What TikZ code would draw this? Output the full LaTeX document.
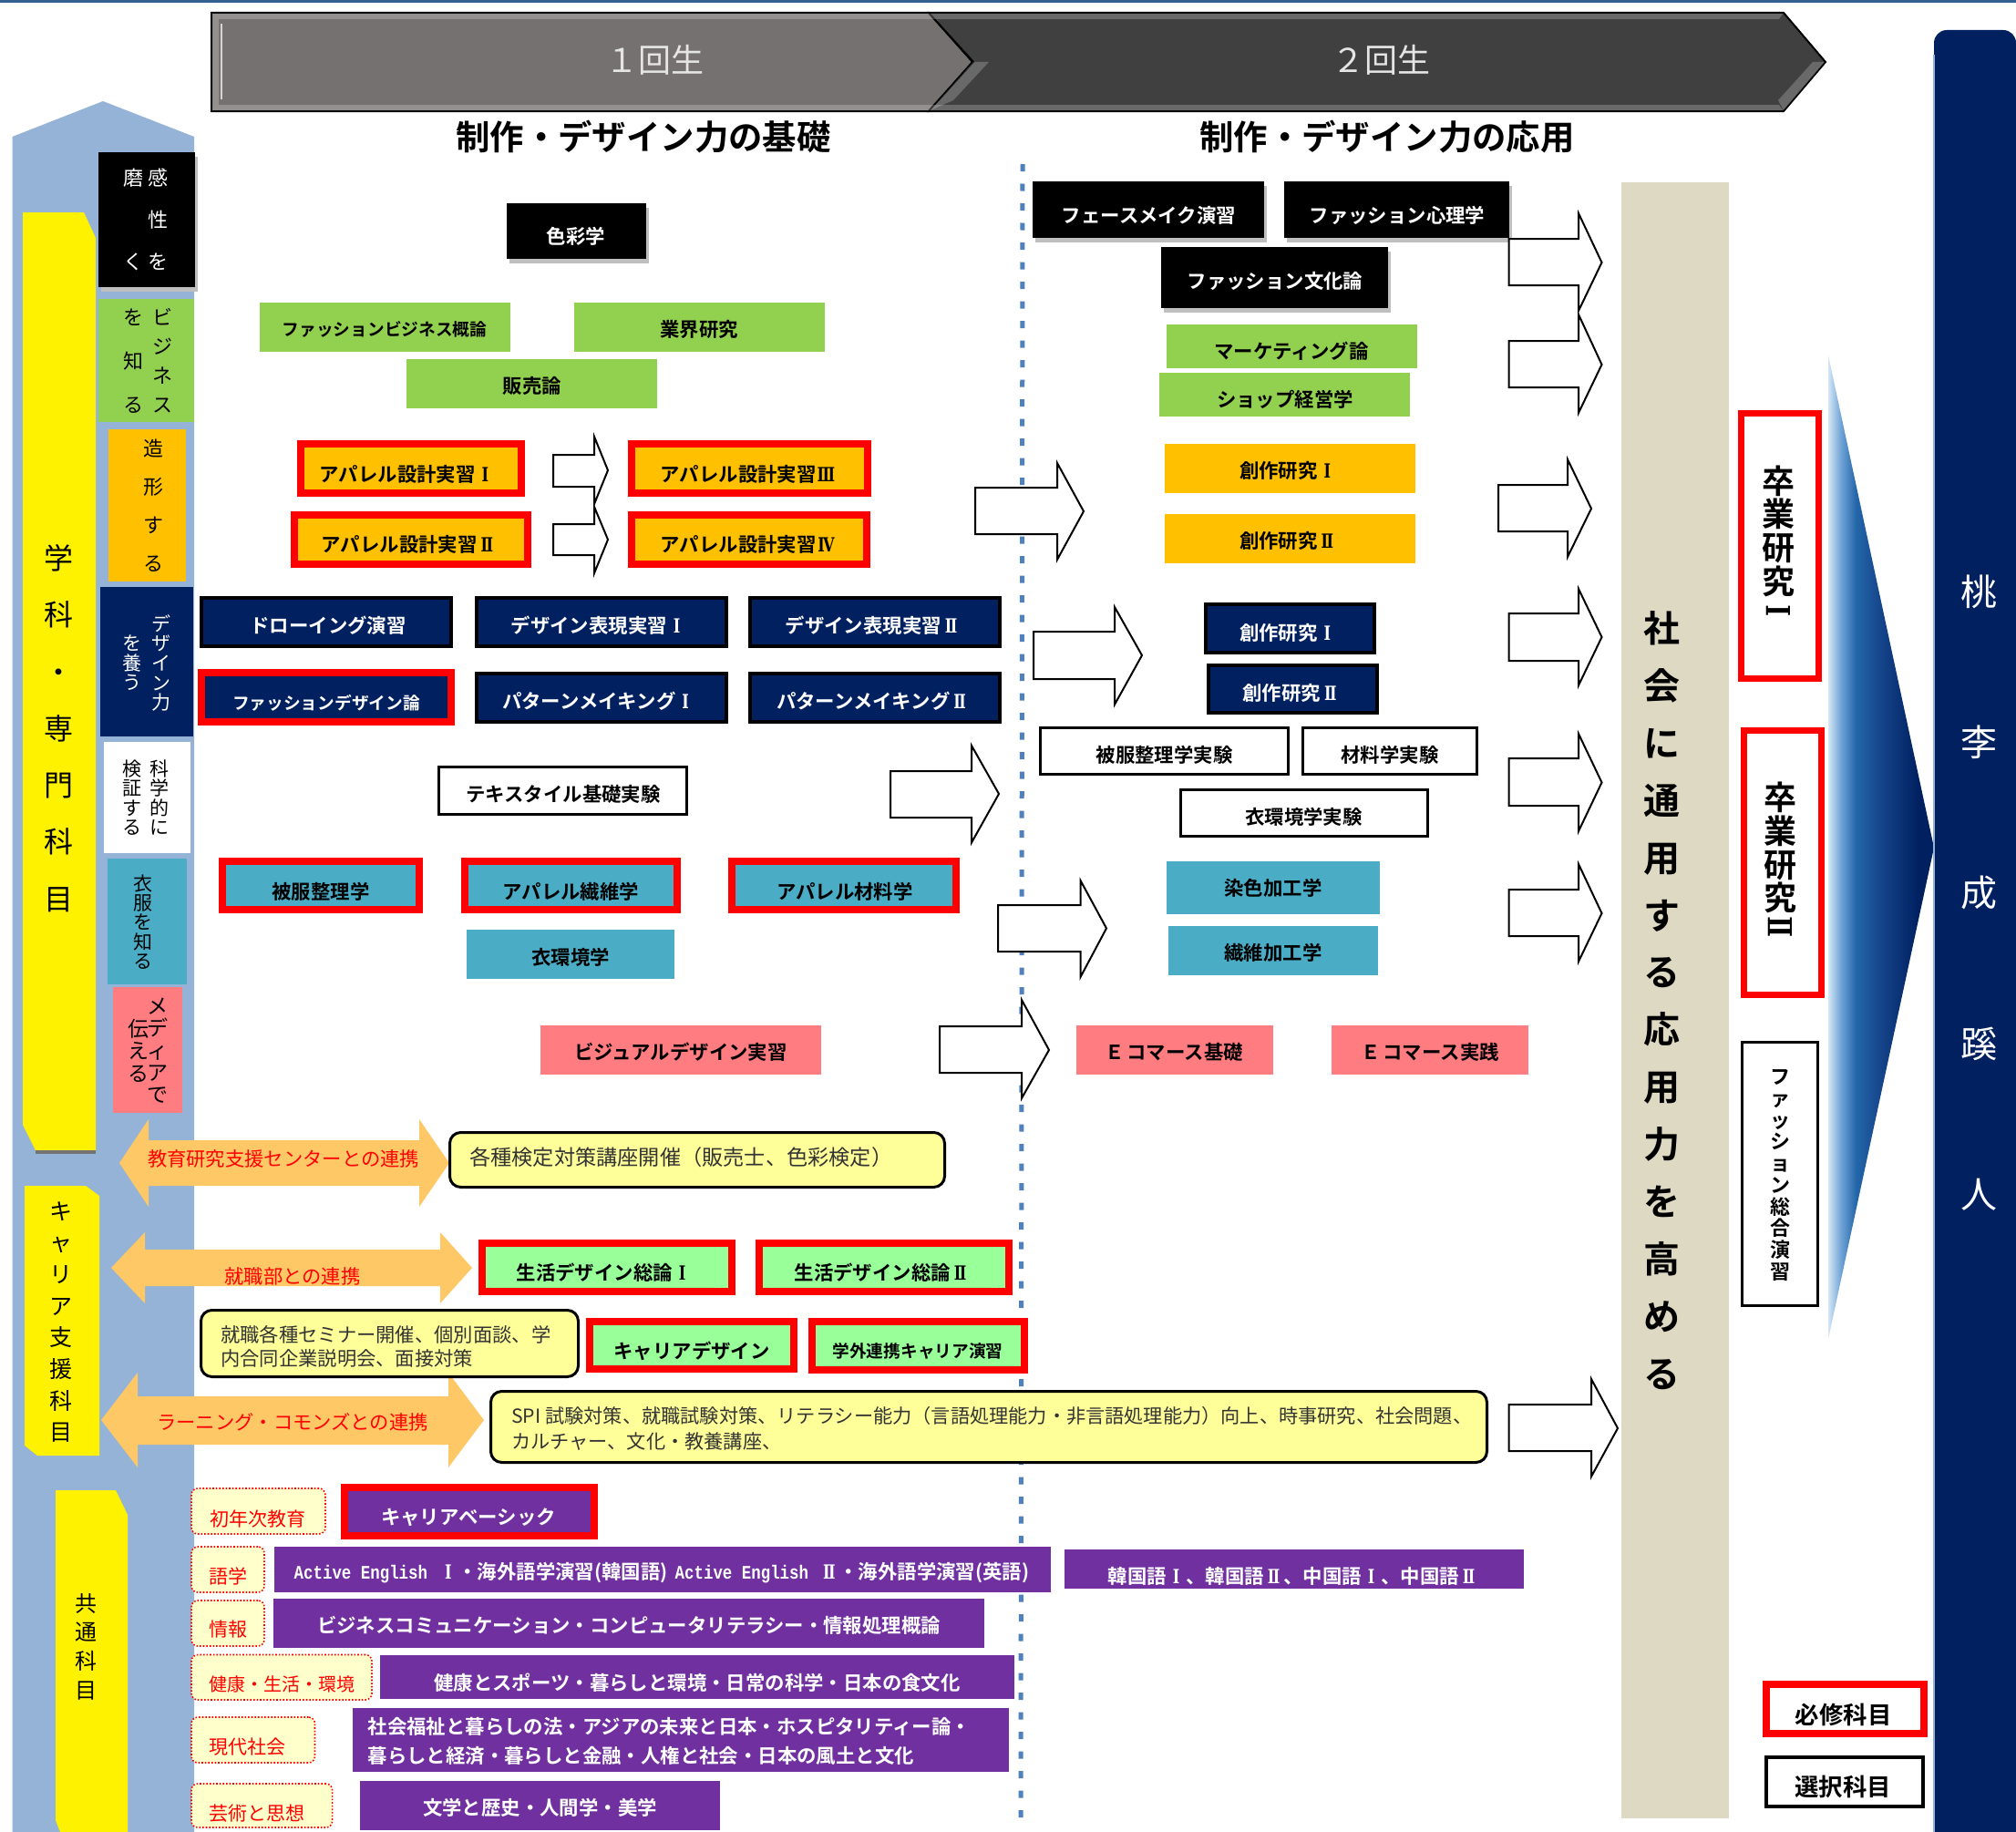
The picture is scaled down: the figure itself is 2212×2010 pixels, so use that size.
\documentclass[tikz,border=0pt]{standalone}
\usepackage{fontspec}
\usepackage{newunicodechar}
\usetikzlibrary{shadows}
\newfontfamily\jb{Noto Sans CJK JP Bold}
\newfontfamily\jr{Noto Sans CJK JP}
\newfontfamily\mb[FakeStretch=0.83]{Liberation Mono Bold}
\newfontfamily\rn[FakeStretch=0.75]{DejaVu Serif Bold}
\newunicodechar{Ⅰ}{\makebox[1em]{\rn\symbol{"2160}}}
\newunicodechar{Ⅱ}{\makebox[1em]{\rn\symbol{"2161}}}
\newunicodechar{Ⅲ}{\makebox[1em]{\rn\symbol{"2162}}}
\newunicodechar{Ⅳ}{\makebox[1em]{\rn\symbol{"2163}}}
\newcommand\fs[1]{\fontsize{#1}{#1}\selectfont}
\definecolor{cBlue}{HTML}{95B3D7}
\definecolor{cNavy}{HTML}{002060}
\definecolor{cGreen}{HTML}{92D050}
\definecolor{cOrange}{HTML}{FFC000}
\definecolor{cTeal}{HTML}{4BACC6}
\definecolor{cPink}{HTML}{FF7C80}
\definecolor{cPurple}{HTML}{7030A0}
\definecolor{cLime}{HTML}{99FF99}
\definecolor{cPale}{HTML}{FFFF99}
\definecolor{cCream}{HTML}{FFFFCC}
\definecolor{cBeige}{HTML}{DDD9C3}
\definecolor{cArrow}{HTML}{FFC866}
\definecolor{cH1}{HTML}{767171}
\definecolor{cH2}{HTML}{404040}
\definecolor{cTop}{HTML}{376092}
\definecolor{cDash}{HTML}{4F81BD}
\definecolor{gA}{HTML}{D5E5F5}
\definecolor{gB}{HTML}{6FA3D6}
\definecolor{gC}{HTML}{2467AA}
\definecolor{gD}{HTML}{15448A}
\pgfdeclarehorizontalshading{trishade}{100bp}{color(0bp)=(gA); color(25bp)=(gA); color(31bp)=(gB); color(38bp)=(gC); color(50bp)=(gD); color(68bp)=(cNavy); color(100bp)=(cNavy)}
\tikzset{
  base/.style={inner sep=0pt,outer sep=0pt},
  btxt/.style={inner sep=0pt,font=\jb\fs{21.4},text=black},
  wtxt/.style={inner sep=0pt,font=\jb\fs{21.4},text=white},
  sBlack/.style={base,fill=black,drop shadow={shadow xshift=3pt,shadow yshift=-5pt,fill=black!25,opacity=1}},
  sBlack-t/.style={wtxt},
  sGreen/.style={base,fill=cGreen},sGreen-t/.style={btxt},
  sOrange/.style={base,fill=cOrange},sOrange-t/.style={btxt},
  sTeal/.style={base,fill=cTeal},sTeal-t/.style={btxt},
  sPink/.style={base,fill=cPink},sPink-t/.style={btxt},
  sPurple/.style={base,fill=cPurple},sPurple-t/.style={wtxt},
  sNavy/.style={base,fill=cNavy,draw=black,line width=4pt},sNavy-t/.style={wtxt},
  sWhite/.style={base,fill=white,draw=black,line width=3pt},sWhite-t/.style={btxt},
  rOrange/.style={base,fill=cOrange,draw=red,line width=8pt},rOrange-t/.style={btxt},
  rNavy/.style={base,fill=cNavy,draw=red,line width=8pt},rNavy-t/.style={wtxt},
  rTeal/.style={base,fill=cTeal,draw=red,line width=8pt},rTeal-t/.style={btxt},
  rLime/.style={base,fill=cLime,draw=red,line width=8pt},rLime-t/.style={btxt},
  rPurple/.style={base,fill=cPurple,draw=red,line width=8pt},rPurple-t/.style={wtxt},
  dotbox/.style={base,fill=cCream,draw=red,dotted,line width=1.6pt,rounded corners=7pt},
  dotbox-t/.style={inner sep=0pt,font=\jr\fs{21},text=red},
  pale/.style={base,fill=cPale,draw=black,line width=3pt,rounded corners=12pt},
  paletxt/.style={inner sep=0pt,font=\jr\fs{21},text=black!80,align=left},
  redtxt/.style={inner sep=0pt,font=\jr\fs{21.3},text=red},
  blk/.style={draw=black,line width=2pt,fill=white,line join=miter},
  dbl/.style={fill=cArrow},
  bevel/.style={fill=white,opacity=.22}
}
% optional inset (line width), name, style, x1, y1, x2, y2, text position, text
\newcommand\bx[9][0]{%
  \node[#3,minimum width={(#6-#4-#1)*1pt},minimum height={(#7-#5-#1)*1pt}] (#2) at ({(#4+#6)/2},{(#5+#7)/2}) {};
  \node[#3-t] (#2t) at (#8) {#9};}
% optional family, name, x, y first, y last, size, baseline step, text colour, characters
\newcommand\vt[9][\jr]{%
  \node[inner sep=0pt,text=#8] (#2) at (#3,{(#4+#5)/2}) {\parbox{70pt}{#1\fontsize{#6}{#7}\selectfont\lineskiplimit=-100pt\relax\centering #9}};}
% x1, x head base, x tip, shaft top, shaft bottom, head top, head bottom, tip y
\newcommand\blkarrow[8]{%
  \draw[blk] (#1,#4) -- (#2,#4) -- (#2,#6) -- (#3,#8) -- (#2,#7) -- (#2,#5) -- (#1,#5) -- cycle;}
% left tip, left base, right base, right tip, head top, shaft top, shaft bottom, head bottom
\newcommand\dblarrow[8]{%
  \fill[dbl] ({#1},{(#5+#8)/2}) -- (#2,#5) -- (#2,#6) -- (#3,#6) -- (#3,#5) -- (#4,{(#5+#8)/2}) -- (#3,#8) -- (#3,#7) -- (#2,#7) -- (#2,#8) -- cycle;}
\begin{document}
\begin{tikzpicture}[x=1pt,y=-1pt]
\useasboundingbox (0,0) rectangle (2212,2010);
\fill[white] (0,0) rectangle (2212,2010);
\fill[cTop] (0,0) rectangle (2212,3);
% left column
\fill[cBlue] (13.5,150) -- (113,111) -- (213,150) -- (213,2010) -- (13.5,2010) -- cycle;
% dashed divider
\coordinate (dashA) at (1122,180);
\coordinate (dashB) at (1120,1999);
\draw[cDash,line width=5pt,dash pattern=on 8pt off 13.5pt] (dashA) -- (dashB);
% header chevrons
\fill[cH1,draw=black,line width=2pt] (232,14) -- (1019,14) -- (1067,68) -- (1019,122) -- (232,122) -- cycle;
\fill[cH2,draw=black,line width=2pt] (1019,14) -- (1957,14) -- (2003,68) -- (1957,122) -- (1019,122) -- (1068,68) -- cycle;
\fill[bevel] (233,15) -- (1956,15) -- (1952,21) -- (240,21) -- cycle;
\fill[bevel] (233,121) -- (1956,121) -- (1952,115) -- (240,115) -- cycle;
\fill[bevel] (233,15) -- (240,21) -- (240,115) -- (233,121) -- cycle;
\draw[white,opacity=.7,line width=2.5pt] (243,26) -- (243,109);
\fill[bevel] (1068,68) -- (1085,68) -- (1046,110) -- (1021,121) -- cycle;
\fill[bevel] (2002,68) -- (1989,68) -- (1951,110) -- (1957,121) -- cycle;
\node[inner sep=0pt,font=\jr\fs{36},text=white!90!black] (h1) at (718,66) {１回生};
\node[inner sep=0pt,font=\jr\fs{36},text=white!90!black] (h2) at (1515,66) {２回生};
\node[inner sep=0pt,font=\jb\fs{37.4}] (s1) at (706,150) {制作・デザイン力の基礎};
\node[inner sep=0pt,font=\jb\fs{37.4}] (s2) at (1522,150) {制作・デザイン力の応用};
% yellow tabs
\fill[yellow] (25,233) -- (92,233) -- (105,261) -- (105,1262) -- (39,1262) -- (25,1234) -- cycle;
\fill[black!55] (39,1262) -- (105,1262) -- (105,1266) -- (39,1266) -- cycle;
\vt{gak}{65}{612}{986}{32}{62.3}{black}{学\\科\\・\\専\\門\\科\\目}
\fill[yellow] (27,1301) -- (94,1301) -- (109,1312) -- (109,1597) -- (41,1597) -- (27,1586) -- cycle;
\vt{car}{67}{1329}{1572}{25}{34.7}{black}{キ\\ャ\\リ\\ア\\支\\援\\科\\目}
\fill[yellow] (61,1635) -- (127,1635) -- (140,1662) -- (140,2010) -- (66,2010) -- (61,1997) -- cycle;
\vt{kyo}{94}{1759}{1854}{24}{31.7}{black}{共\\通\\科\\目}
% side labels
\node[base,fill=black,minimum width=106pt,minimum height=148pt,drop shadow={shadow xshift=3pt,shadow yshift=-5pt,fill=black!25,opacity=1}] (lb1) at (161,241) {};
\vt{lb1a}{173}{195}{287}{22}{46}{white}{感\\性\\を}
\vt{lb1b}{146}{195}{287}{22}{92}{white}{磨\\く}
\node[base,fill=cGreen,minimum width=105pt,minimum height=135pt] (lb2) at (160.5,395.5) {};
\vt{lb2a}{178}{348}{444}{22}{32}{black}{ビ\\ジ\\ネ\\ス}
\vt{lb2b}{146}{348}{444}{22}{48}{black}{を\\知\\る}
\node[base,fill=cOrange,minimum width=85pt,minimum height=167pt] (lb3) at (161.5,554.5) {};
\vt{lb3a}{168}{492}{618}{22}{42}{black}{造\\形\\す\\る}
\node[base,fill=cNavy,minimum width=102pt,minimum height=164pt] (lb4) at (161,726) {};
\vt{lb4a}{177}{684}{771}{21}{21.7}{white}{デ\\ザ\\イ\\ン\\力}
\vt{lb4b}{145}{706}{749}{21}{21.5}{white}{を\\養\\う}
\node[base,fill=white,minimum width=95pt,minimum height=122pt] (lb5) at (161.5,875) {};
\vt{lb5a}{175}{843}{907}{21}{21.3}{black}{科\\学\\的\\に}
\vt{lb5b}{145}{843}{907}{21}{21.3}{black}{検\\証\\す\\る}
\node[base,fill=cTeal,minimum width=87pt,minimum height=138pt] (lb6) at (161.5,1011) {};
\vt{lb6a}{157}{969}{1054}{21}{21.3}{black}{衣\\服\\を\\知\\る}
\node[base,fill=cPink,minimum width=76pt,minimum height=138pt] (lb7) at (162,1152) {};
\vt{lb7a}{173}{1104.5}{1201}{23}{24.1}{black}{メ\\デ\\ィ\\ア\\で}
\vt{lb7b}{152}{1128.6}{1177}{23}{24.2}{black}{伝\\え\\る}
% first year boxes
\bx{sk}{sBlack}{556}{223}{709}{284}{632,259}{色彩学}
\bx{fb}{sGreen}{285}{332}{560}{386}{422,361}{\fs{18.7}ファッションビジネス概論}
\bx{gy}{sGreen}{630}{332}{905}{386}{767,361}{業界研究}
\bx{hb}{sGreen}{446}{394}{721}{448}{584,423}{販売論}
\bx[8]{ap1}{rOrange}{326}{483}{576}{545}{447,520}{アパレル設計実習Ⅰ}
\bx[8]{ap2}{rOrange}{319}{561}{583}{623}{449,597}{アパレル設計実習Ⅱ}
\bx[8]{ap3}{rOrange}{689}{483}{956}{545}{821,520}{アパレル設計実習Ⅲ}
\bx[8]{ap4}{rOrange}{689}{561}{955}{623}{821,597}{アパレル設計実習Ⅳ}
\bx[4]{dr}{sNavy}{219}{654}{497}{711}{360,686}{ドローイング演習}
\bx[4]{dh1}{sNavy}{521}{654}{799}{711}{657,686}{デザイン表現実習Ⅰ}
\bx[4]{dh2}{sNavy}{821}{654}{1099}{711}{958,686}{デザイン表現実習Ⅱ}
\bx[8]{fd}{rNavy}{217}{734}{499}{796}{358,771}{\fs{18.7}ファッションデザイン論}
\bx[4]{pm1}{sNavy}{521}{737}{799}{794}{657,769}{パターンメイキングⅠ}
\bx[4]{pm2}{sNavy}{821}{737}{1099}{794}{958,769}{パターンメイキングⅡ}
\bx[3]{tx}{sWhite}{480}{840}{755}{895}{618,871}{テキスタイル基礎実験}
\bx[8]{hs}{rTeal}{240}{941}{464}{1002}{352,978}{被服整理学}
\bx[8]{as}{rTeal}{506}{941}{747}{1002}{626.5,978}{アパレル繊維学}
\bx[8]{az}{rTeal}{799}{941}{1053}{1002}{927,978}{アパレル材料学}
\bx{ik}{sTeal}{512}{1020}{740}{1074}{626,1050}{衣環境学}
\bx{vd}{sPink}{593}{1125}{901}{1179}{747,1154}{ビジュアルデザイン実習}
% second year boxes
\bx{fm}{sBlack}{1133}{199}{1387}{261}{1260.5,236}{フェースメイク演習}
\bx{fs}{sBlack}{1409}{199}{1656}{261}{1533,236}{ファッション心理学}
\bx{fc}{sBlack}{1274}{271}{1523}{338}{1399,308.5}{ファッション文化論}
\bx{mk}{sGreen}{1280}{356}{1555}{404}{1417,385}{マーケティング論}
\bx{sh}{sGreen}{1272}{409}{1547}{457}{1410,438}{ショップ経営学}
\bx{so1}{sOrange}{1278}{487}{1553}{541}{1413.5,516}{創作研究Ⅰ}
\bx{so2}{sOrange}{1278}{564}{1553}{618}{1413.5,593}{創作研究Ⅱ}
\bx[4]{sn1}{sNavy}{1321}{661}{1510}{718}{1413.5,694}{創作研究Ⅰ}
\bx[4]{sn2}{sNavy}{1324}{728}{1513}{784}{1417,760}{創作研究Ⅱ}
\bx[3]{hj}{sWhite}{1140}{797}{1415}{851}{1277.5,828}{被服整理学実験}
\bx[3]{zj}{sWhite}{1427.5}{797}{1622}{851}{1525,828}{材料学実験}
\bx[3]{ij}{sWhite}{1294}{865}{1568}{919}{1430.5,896}{衣環境学実験}
\bx{ss}{sTeal}{1280}{945}{1514}{1003}{1397,974}{染色加工学}
\bx{sk2}{sTeal}{1282}{1016}{1512}{1070}{1397,1045}{繊維加工学}
\bx{ec1}{sPink}{1181}{1125}{1397}{1179}{1288,1154}{Ｅ\hspace{3pt}コマース基礎}
\bx{ec2}{sPink}{1461}{1125}{1677}{1179}{1569,1154}{Ｅ\hspace{3pt}コマース実践}
% block arrows
\blkarrow{607}{652}{667}{499}{534}{479}{553}{516}
\blkarrow{607}{652}{667}{575}{609}{556}{629}{592}
\blkarrow{977}{1066}{1096}{846}{897}{818}{924.5}{871}
\blkarrow{1070}{1160}{1189}{535}{586}{508}{614}{561}
\blkarrow{1134}{1223}{1253}{693}{745}{666}{773}{719}
\blkarrow{1095}{1185.5}{1214}{993}{1044}{966}{1072}{1018.5}
\blkarrow{1031}{1121}{1151}{1126}{1177}{1097}{1205}{1152}
\blkarrow{1655.5}{1732}{1757.5}{262}{313}{234}{341}{288}
\blkarrow{1655.5}{1732}{1757.5}{374}{425}{345}{453}{400}
\blkarrow{1644}{1720}{1746}{532}{583}{504}{611}{558}
\blkarrow{1655.5}{1732}{1757.5}{673}{725}{646}{752}{699}
\blkarrow{1655.5}{1732}{1757.5}{832}{884}{805}{912}{858.5}
\blkarrow{1655.5}{1732}{1757.5}{976}{1027}{948}{1055}{1002}
\blkarrow{1655.5}{1746}{1775}{1541}{1592}{1513}{1620}{1567}
% double arrows and support texts
\dblarrow{131}{163}{460}{493}{1228}{1251}{1301}{1324}
\node[redtxt] (da1) at (311,1271) {教育研究支援センターとの連携};
\node[base,pale,minimum width=543pt,minimum height=60pt] (p1) at (765,1272.5) {};
\node[paletxt,font=\jr\fs{23.2},anchor=west] (p1t) at (515,1270) {各種検定対策講座開催（販売士、色彩検定）};
\dblarrow{122}{159}{483}{518}{1352}{1371}{1411}{1430}
\node[redtxt] (da2) at (321,1400) {就職部との連携};
\dblarrow{111}{151}{492}{531}{1506}{1532}{1585}{1610}
\node[redtxt] (da3) at (321,1560) {ラーニング・コモンズとの連携};
\node[base,pale,minimum width=414pt,minimum height=73pt] (p2) at (427.5,1474) {};
\node[paletxt,anchor=west,font=\jr\fontsize{21.3}{26}\selectfont] (p2t) at (242,1477) {就職各種セミナー開催、個別面談、学\\内合同企業説明会、面接対策};
\node[base,pale,minimum width=1093pt,minimum height=78pt] (p3) at (1085,1565.5) {};
\node[paletxt,anchor=west,font=\jr\fontsize{21.2}{28}\selectfont] (p3t) at (561,1567) {SPI 試験対策、就職試験対策、リテラシー能力（言語処理能力・非言語処理能力）向上、時事研究、社会問題、\\カルチャー、文化・教養講座、};
\bx[8]{sd1}{rLime}{525}{1360}{807}{1421}{663,1396.5}{生活デザイン総論Ⅰ}
\bx[8]{sd2}{rLime}{829}{1360}{1111}{1421}{968,1396.5}{生活デザイン総論Ⅱ}
\bx[8]{cd}{rLime}{643}{1445.5}{875}{1506}{759,1482}{キャリアデザイン}
\bx[8]{gc}{rLime}{887}{1445.5}{1128}{1506.5}{1007,1482}{\fs{18.7}学外連携キャリア演習}
% common subjects
\bx{d1}{dotbox}{210}{1633}{357}{1683}{283,1666}{初年次教育}
\bx{d2}{dotbox}{210}{1697}{290}{1747}{250,1729}{語学}
\bx{d3}{dotbox}{210}{1756}{290}{1806}{250,1788}{情報}
\bx{d4}{dotbox}{210}{1815.5}{408}{1865}{309.5,1848}{\fs{20}健康・生活・環境}
\bx{d5}{dotbox}{210}{1884}{345.5}{1934}{271,1916.5}{現代社会}
\bx{d6}{dotbox}{210}{1957}{364.6}{2005}{282,1990}{芸術と思想}
\bx[8]{cb}{rPurple}{374}{1628}{656}{1689}{514,1664.5}{キャリアベーシック}
\bx{lg}{sPurple}{301}{1697}{1153}{1747}{726,1725.5}{{\mb\fontsize{21}{21}\selectfont Active English}\hspace{12pt}Ⅰ・海外語学演習(韓国語)\hspace{8pt}{\mb\fontsize{21}{21}\selectfont Active English}\hspace{12pt}Ⅱ・海外語学演習(英語)}
\bx{kr}{sPurple}{1168}{1700}{1672}{1743}{1419,1729.5}{韓国語Ⅰ、韓国語Ⅱ、中国語Ⅰ、中国語Ⅱ}
\bx{bc}{sPurple}{300}{1754}{1080}{1808}{690,1783.5}{ビジネスコミュニケーション・コンピュータリテラシー・情報処理概論}
\bx{ks}{sPurple}{417}{1816}{1113}{1864}{765,1846}{健康とスポーツ・暮らしと環境・日常の科学・日本の食文化}
\node[base,fill=cPurple,minimum width=720pt,minimum height=70pt] (sc) at (747,1909) {};
\node[inner sep=0pt,text=white,align=left,anchor=west,font=\jb\fontsize{21.4}{32}\selectfont] (sct) at (403.5,1910) {社会福祉と暮らしの法・アジアの未来と日本・ホスピタリティー論・\\暮らしと経済・暮らしと金融・人権と社会・日本の風土と文化};
\bx{bg}{sPurple}{395}{1954}{790}{2008}{592.5,1983.5}{文学と歴史・人間学・美学}
% outcome column
\node[base,fill=cBeige,minimum width=118pt,minimum height=1795pt] (cap) at (1838,1097.5) {};
\vt[\jb]{capt}{1823}{688.6}{1506.5}{40}{62.9}{black}{社\\会\\に\\通\\用\\す\\る\\応\\用\\力\\を\\高\\め\\る}
% gradient triangle
\shade[shading=trishade] (2006,390) -- (2122,930) -- (2006,1469) -- cycle;
% graduation boxes
\node[base,fill=white,draw=red,line width=7pt,minimum width=85pt,minimum height=290.6pt] (gr1) at (1953,598.8) {};
\vt[\jb]{gr1t}{1951}{526}{673}{36}{36.8}{black}{卒\\業\\研\\究\\\rotatebox{90}{Ⅰ}}
\node[base,fill=white,draw=red,line width=7pt,minimum width=85pt,minimum height=289.5pt] (gr2) at (1956,946.3) {};
\vt[\jb]{gr2t}{1953}{873.6}{1020}{36}{36.6}{black}{卒\\業\\研\\究\\\rotatebox{90}{Ⅱ}}
\node[base,fill=white,draw=black,line width=3pt,minimum width=83pt,minimum height=289pt] (gr3) at (1953,1288) {};
\vt[\jb]{gr3t}{1953}{1183}{1396}{22}{23.7}{black}{フ\\ァ\\ッ\\シ\\ョ\\ン\\総\\合\\演\\習}
% navy column
\fill[cNavy,rounded corners=14pt] (2122,2040) -- (2122,33) -- (2212,33) -- (2212,2040) -- cycle;
\draw[cBlue,line width=1.5pt] (2122,60) -- (2122,2010);
\vt{ppl}{2171}{649}{1310}{40}{165.25}{white}{桃\\李\\成\\蹊\\人}
% legend
\node[base,fill=white,draw=red,line width=8pt,minimum width=172.6pt,minimum height=53.5pt] (lg1) at (2024.3,1874.75) {};
\node[inner sep=0pt,font=\jb\fs{26.4}] (lg1t) at (2022.6,1881) {必修科目};
\node[base,fill=white,draw=black,line width=4pt,minimum width=172pt,minimum height=53.5pt] (lg2) at (2024,1954.75) {};
\node[inner sep=0pt,font=\jb\fs{26.4}] (lg2t) at (2022,1960) {選択科目};
\end{tikzpicture}
\end{document}
